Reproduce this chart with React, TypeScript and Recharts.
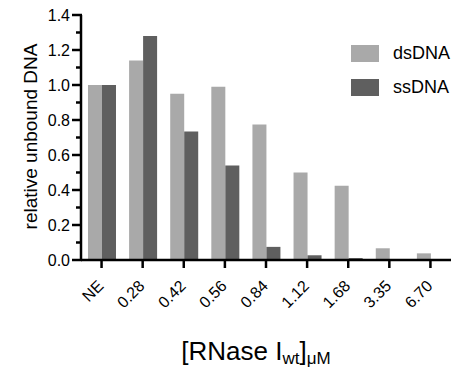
import React from 'react';
import { BarChart, Bar, XAxis, YAxis, Legend } from 'recharts';

const concentrations = ['NE', '0.28', '0.42', '0.56', '0.84', '1.12', '1.68', '3.35', '6.70'];
const dsDNA = [1.0, 1.14, 0.95, 0.99, 0.775, 0.5, 0.425, 0.067, 0.038];
const ssDNA = [1.0, 1.28, 0.735, 0.54, 0.075, 0.027, 0.011, 0, 0];
const yTicks = [0, 0.1, 0.2, 0.3, 0.4, 0.5, 0.6, 0.7, 0.8, 0.9, 1.0, 1.1, 1.2, 1.3, 1.4];

const FONT = '"Liberation Sans", Arial, Helvetica, sans-serif';
const DS_COLOR = '#a9a9a9';
const SS_COLOR = '#5f5f5f';

const data = concentrations.map((c, i) => ({ conc: c, dsDNA: dsDNA[i], ssDNA: ssDNA[i] }));

function renderXTick(props: any) {
  const { x, y, payload } = props;
  return (
    <g>
      <path d={`M${x},${y - 1}V${y + 8}`} stroke="#000" strokeWidth={2.5} fill="none" />
      <g transform={`translate(${x + 3},${y + 27}) rotate(-45)`}>
        <text x={0} y={0} textAnchor="end" fontSize={16} fontFamily={FONT} fill="#000">
          {payload.value}
        </text>
      </g>
    </g>
  );
}

function renderYTick(props: any) {
  const { x, y, payload } = props;
  const v = payload.value;
  // labelled ticks every 0.2, short unlabelled ticks in between
  const major = Math.round(v * 10) % 2 === 0;
  return (
    <g>
      <path d={`M${x - (major ? 9 : 5)},${y}H${x + 1}`} stroke="#000" strokeWidth={2.5} fill="none" />
      {major && (
        <text x={x - 11} y={y} dy="0.36em" textAnchor="end" fontSize={16} fontFamily={FONT} fill="#000">
          {v.toFixed(1)}
        </text>
      )}
    </g>
  );
}

function XTitle({ viewBox }: any) {
  const cx = viewBox.x + viewBox.width / 2 - 10;
  const cy = viewBox.y + 100;
  return (
    <text x={cx} y={cy} textAnchor="middle" fontSize={26} fontFamily={FONT} fill="#000">
      [RNase I
      <tspan fontSize={17} dy={4}>wt</tspan>
      <tspan fontSize={26} dy={-4}>]</tspan>
      <tspan fontSize={17} dy={4}>μM</tspan>
    </text>
  );
}

function YTitle({ viewBox }: any) {
  const cx = 37;
  const cy = viewBox.y + viewBox.height / 2 - 1;
  return (
    <text
      x={cx}
      y={cy}
      transform={`rotate(-90, ${cx}, ${cy})`}
      textAnchor="middle"
      fontSize={19}
      fontFamily={FONT}
      fill="#000"
    >
      relative unbound DNA
    </text>
  );
}

function LegendBox({ payload }: any) {
  return (
    <div style={{ fontFamily: FONT }}>
      {(payload || []).map((p: any, i: number) => (
        <div key={i} style={{ display: 'flex', alignItems: 'center', height: 17, marginBottom: 17 }}>
          <div style={{ width: 28, height: 17, background: p.color }} />
          <span style={{ marginLeft: 14, fontSize: 18, color: '#000' }}>{p.value}</span>
        </div>
      ))}
    </div>
  );
}

export default function App() {
  return (
    <div style={{ position: 'absolute', left: 0, top: 0, background: '#fff' }}>
      <BarChart
        width={461}
        height={376}
        data={data}
        margin={{ top: 15, right: 10, left: 0, bottom: 0 }}
        barCategoryGap="17%"
        barGap={0}
      >
        <Bar dataKey="dsDNA" name="dsDNA" fill={DS_COLOR} isAnimationActive={false} />
        <Bar dataKey="ssDNA" name="ssDNA" fill={SS_COLOR} isAnimationActive={false} />
        <XAxis
          dataKey="conc"
          height={116}
          tick={renderXTick}
          tickLine={false}
          tickSize={0}
          tickMargin={0}
          stroke="#000"
          axisLine={{ stroke: '#000', strokeWidth: 2.5 }}
          interval={0}
          label={<XTitle />}
        />
        <YAxis
          width={81}
          domain={[0, 1.4]}
          ticks={yTicks}
          interval={0}
          tick={renderYTick}
          tickLine={false}
          tickSize={0}
          tickMargin={0}
          stroke="#000"
          axisLine={{ stroke: '#000', strokeWidth: 2.5 }}
          label={<YTitle />}
        />
        <Legend
          layout="vertical"
          align="center"
          verticalAlign="middle"
          wrapperStyle={{ top: 45, left: 351, width: 110 }}
          content={<LegendBox />}
        />
      </BarChart>
    </div>
  );
}
